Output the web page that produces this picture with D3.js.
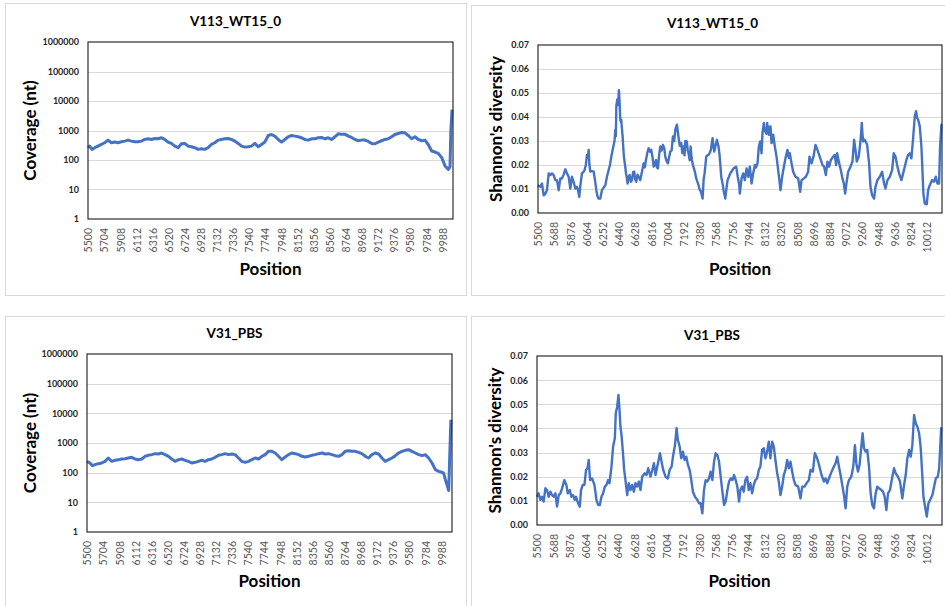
<!DOCTYPE html>
<html><head><meta charset="utf-8">
<script src="https://cdn.jsdelivr.net/npm/d3@7"></script>
<style>body{margin:0;background:#fff} svg{display:block} text{font-family:Lato,"Open Sans",sans-serif}</style>
</head><body>
<svg id="c" width="945" height="606"></svg>
<script>
const titleTop = "V113_WT15_0";
const titleBottom = "V31_PBS";
const coverageLabel = "Coverage (nt)";
const diversityLabel = "Shannon's diversity";
const xLabel = "Position";

const coverageYTicks = [1, 10, 100, 1000, 10000, 100000, 1000000];
const diversityYTicks = [0, 0.01, 0.02, 0.03, 0.04, 0.05, 0.06, 0.07];
const coverageXTicks = [5500,5704,5908,6112,6316,6520,6724,6928,7132,7336,7540,7744,7948,8152,8356,8560,8764,8968,9172,9376,9580,9784,9988];
const diversityXTicks = [5500,5688,5876,6064,6252,6440,6628,6816,7004,7192,7380,7568,7756,7944,8132,8320,8508,8696,8884,9072,9260,9448,9636,9824,10012];

// [position, coverage]
const coverageTop = [[5500,261],[5521,296],[5551,229],[5585,261],[5627,296],[5669,337],[5711,384],[5754,472],[5796,384],[5838,405],[5880,384],[5923,415],[5965,437],[6007,472],[6049,437],[6092,415],[6134,415],[6176,437],[6218,497],[6261,524],[6303,497],[6345,537],[6387,524],[6430,566],[6472,497],[6514,405],[6556,365],[6599,296],[6641,261],[6683,356],[6725,365],[6768,296],[6810,281],[6852,261],[6894,229],[6937,241],[6979,229],[7021,261],[7063,337],[7106,384],[7148,472],[7190,497],[7232,524],[7275,537],[7317,497],[7359,437],[7401,365],[7444,296],[7486,274],[7528,281],[7570,296],[7613,365],[7655,281],[7697,337],[7739,405],[7782,678],[7824,733],[7866,644],[7908,497],[7951,405],[7993,497],[8035,612],[8077,678],[8120,644],[8162,612],[8204,566],[8246,497],[8289,472],[8331,524],[8373,524],[8415,566],[8458,581],[8500,524],[8542,566],[8584,497],[8627,612],[8669,773],[8711,752],[8753,752],[8796,644],[8838,581],[8880,497],[8922,449],[8965,472],[9007,472],[9049,426],[9091,365],[9134,356],[9176,405],[9218,449],[9260,497],[9303,524],[9345,612],[9387,733],[9429,793],[9472,857],[9514,834],[9556,678],[9598,524],[9641,612],[9683,497],[9725,449],[9767,472],[9810,329],[9852,201],[9894,186],[9936,168],[9979,120],[10021,63],[10042,55],[10063,48],[10084,60],[10095,1000],[10110,5100]];
const coverageBottom = [[5500,241],[5538,212],[5568,172],[5601,186],[5644,201],[5686,212],[5728,241],[5770,312],[5813,241],[5855,261],[5897,274],[5939,289],[5982,296],[6024,312],[6066,329],[6108,289],[6151,274],[6193,289],[6235,356],[6277,384],[6320,405],[6362,437],[6404,426],[6446,460],[6489,405],[6531,356],[6573,289],[6615,241],[6658,274],[6700,289],[6742,261],[6784,241],[6827,212],[6869,223],[6911,241],[6953,261],[6996,241],[7038,274],[7080,289],[7122,329],[7165,384],[7207,405],[7249,437],[7291,405],[7334,426],[7376,405],[7418,312],[7460,241],[7503,223],[7545,241],[7587,274],[7629,312],[7672,289],[7714,356],[7756,405],[7798,524],[7841,524],[7883,460],[7925,356],[7967,274],[8010,337],[8052,405],[8094,460],[8136,437],[8179,405],[8221,356],[8263,337],[8305,356],[8348,384],[8390,405],[8432,437],[8474,460],[8517,426],[8559,437],[8601,405],[8643,374],[8686,356],[8728,405],[8770,524],[8812,552],[8855,524],[8897,524],[8939,484],[8981,437],[9024,356],[9066,312],[9108,405],[9150,460],[9193,426],[9235,312],[9277,241],[9319,274],[9362,312],[9404,374],[9446,460],[9488,524],[9531,566],[9573,596],[9615,524],[9657,460],[9700,405],[9742,374],[9784,405],[9826,312],[9869,212],[9911,126],[9953,111],[9995,103],[10016,97],[10038,58],[10059,39],[10080,25],[10095,500],[10108,6100]];

// [position, Shannon's diversity]
const diversityTop = [[5500,0.0116],[5527,0.0109],[5546,0.0123],[5566,0.0074],[5585,0.0080],[5604,0.0095],[5624,0.0165],[5643,0.0158],[5662,0.0165],[5682,0.0158],[5701,0.0137],[5720,0.0137],[5740,0.0095],[5759,0.0144],[5778,0.0144],[5797,0.0160],[5817,0.0182],[5836,0.0165],[5856,0.0151],[5875,0.0102],[5894,0.0151],[5913,0.0130],[5933,0.0102],[5952,0.0109],[5965,0.0095],[5979,0.0067],[5990,0.0110],[6010,0.0165],[6025,0.0170],[6041,0.0179],[6055,0.0200],[6068,0.0242],[6078,0.0230],[6088,0.0263],[6097,0.0200],[6107,0.0172],[6125,0.0175],[6146,0.0172],[6160,0.0140],[6177,0.0095],[6190,0.0070],[6204,0.0060],[6223,0.0060],[6242,0.0095],[6260,0.0105],[6281,0.0116],[6300,0.0151],[6320,0.0179],[6335,0.0200],[6351,0.0235],[6365,0.0260],[6378,0.0284],[6388,0.0300],[6397,0.0347],[6403,0.0320],[6409,0.0445],[6420,0.0473],[6430,0.0450],[6439,0.0512],[6447,0.0460],[6455,0.0389],[6462,0.0380],[6466,0.0389],[6474,0.0350],[6482,0.0319],[6490,0.0270],[6497,0.0235],[6510,0.0200],[6521,0.0165],[6530,0.0150],[6540,0.0123],[6552,0.0150],[6563,0.0158],[6577,0.0130],[6590,0.0137],[6603,0.0170],[6617,0.0172],[6628,0.0140],[6640,0.0130],[6655,0.0160],[6668,0.0151],[6687,0.0137],[6705,0.0170],[6726,0.0207],[6740,0.0190],[6753,0.0221],[6768,0.0250],[6784,0.0270],[6800,0.0255],[6814,0.0263],[6830,0.0230],[6842,0.0193],[6855,0.0200],[6869,0.0221],[6880,0.0190],[6892,0.0186],[6905,0.0240],[6919,0.0277],[6935,0.0260],[6950,0.0284],[6965,0.0270],[6977,0.0235],[6993,0.0215],[7008,0.0207],[7020,0.0230],[7035,0.0256],[7050,0.0260],[7066,0.0319],[7080,0.0300],[7095,0.0350],[7112,0.0368],[7122,0.0340],[7132,0.0312],[7145,0.0280],[7162,0.0291],[7175,0.0250],[7189,0.0277],[7200,0.0240],[7210,0.0300],[7228,0.0298],[7237,0.0260],[7247,0.0249],[7260,0.0220],[7271,0.0277],[7280,0.0240],[7286,0.0221],[7298,0.0200],[7309,0.0186],[7322,0.0170],[7336,0.0144],[7350,0.0130],[7363,0.0116],[7373,0.0100],[7383,0.0095],[7397,0.0080],[7410,0.0060],[7422,0.0140],[7433,0.0165],[7443,0.0200],[7452,0.0235],[7465,0.0240],[7479,0.0242],[7492,0.0250],[7506,0.0263],[7516,0.0290],[7526,0.0312],[7535,0.0280],[7545,0.0256],[7560,0.0280],[7576,0.0305],[7585,0.0290],[7595,0.0277],[7607,0.0240],[7618,0.0193],[7626,0.0150],[7634,0.0137],[7643,0.0120],[7653,0.0095],[7662,0.0080],[7673,0.0060],[7686,0.0100],[7700,0.0137],[7715,0.0150],[7731,0.0165],[7750,0.0175],[7769,0.0186],[7785,0.0190],[7800,0.0193],[7818,0.0150],[7835,0.0116],[7842,0.0081],[7862,0.0144],[7881,0.0165],[7900,0.0137],[7920,0.0186],[7939,0.0151],[7958,0.0193],[7978,0.0123],[7997,0.0165],[8016,0.0200],[8030,0.0190],[8047,0.0207],[8063,0.0277],[8078,0.0298],[8094,0.0249],[8105,0.0333],[8121,0.0375],[8130,0.0340],[8140,0.0354],[8150,0.0330],[8159,0.0375],[8170,0.0340],[8179,0.0326],[8189,0.0360],[8198,0.0361],[8210,0.0291],[8220,0.0310],[8229,0.0326],[8248,0.0277],[8268,0.0235],[8287,0.0179],[8300,0.0140],[8314,0.0095],[8333,0.0151],[8353,0.0193],[8376,0.0235],[8395,0.0263],[8410,0.0230],[8422,0.0249],[8442,0.0207],[8461,0.0172],[8488,0.0151],[8519,0.0144],[8530,0.0120],[8542,0.0088],[8558,0.0137],[8585,0.0144],[8608,0.0151],[8635,0.0172],[8650,0.0235],[8674,0.0207],[8697,0.0235],[8720,0.0284],[8743,0.0263],[8762,0.0242],[8782,0.0221],[8801,0.0200],[8820,0.0193],[8840,0.0158],[8859,0.0214],[8878,0.0193],[8898,0.0221],[8925,0.0235],[8944,0.0242],[8960,0.0200],[8971,0.0249],[8991,0.0214],[9014,0.0179],[9033,0.0144],[9049,0.0123],[9064,0.0081],[9079,0.0123],[9099,0.0172],[9126,0.0193],[9149,0.0214],[9168,0.0305],[9184,0.0263],[9199,0.0214],[9222,0.0235],[9242,0.0298],[9257,0.0375],[9265,0.0330],[9273,0.0298],[9292,0.0305],[9319,0.0284],[9342,0.0207],[9358,0.0109],[9377,0.0074],[9400,0.0060],[9416,0.0109],[9439,0.0137],[9466,0.0151],[9493,0.0172],[9516,0.0123],[9532,0.0102],[9555,0.0137],[9582,0.0151],[9609,0.0179],[9628,0.0249],[9648,0.0235],[9667,0.0200],[9690,0.0165],[9717,0.0137],[9737,0.0165],[9756,0.0193],[9775,0.0221],[9795,0.0242],[9814,0.0249],[9833,0.0228],[9853,0.0312],[9872,0.0403],[9887,0.0424],[9900,0.0395],[9911,0.0389],[9930,0.0361],[9949,0.0277],[9961,0.0179],[9972,0.0081],[9988,0.0039],[10011,0.0036],[10027,0.0095],[10046,0.0116],[10073,0.0137],[10096,0.0130],[10116,0.0151],[10135,0.0123],[10154,0.0123],[10166,0.0277],[10181,0.0368],[10188,0.0370]];
const diversityBottom = [[5500,0.0117],[5519,0.0131],[5539,0.0104],[5558,0.0117],[5577,0.0097],[5597,0.0152],[5616,0.0145],[5635,0.0117],[5655,0.0138],[5674,0.0124],[5693,0.0117],[5713,0.0131],[5732,0.0076],[5751,0.0124],[5771,0.0131],[5790,0.0152],[5817,0.0186],[5840,0.0166],[5856,0.0131],[5879,0.0145],[5898,0.0117],[5918,0.0124],[5937,0.0104],[5952,0.0117],[5976,0.0090],[5995,0.0076],[6010,0.0145],[6030,0.0166],[6049,0.0166],[6068,0.0228],[6084,0.0235],[6099,0.0269],[6115,0.0186],[6138,0.0193],[6165,0.0166],[6188,0.0104],[6207,0.0083],[6227,0.0083],[6246,0.0117],[6265,0.0131],[6285,0.0159],[6304,0.0166],[6323,0.0186],[6339,0.0173],[6362,0.0242],[6381,0.0325],[6401,0.0359],[6412,0.0463],[6428,0.0490],[6443,0.0539],[6455,0.0477],[6466,0.0407],[6478,0.0373],[6494,0.0304],[6509,0.0228],[6524,0.0186],[6544,0.0124],[6563,0.0173],[6582,0.0145],[6602,0.0166],[6621,0.0138],[6640,0.0173],[6660,0.0159],[6679,0.0180],[6698,0.0145],[6718,0.0200],[6745,0.0214],[6768,0.0207],[6787,0.0235],[6814,0.0200],[6834,0.0228],[6853,0.0256],[6872,0.0207],[6900,0.0256],[6923,0.0297],[6942,0.0262],[6961,0.0228],[6988,0.0200],[7015,0.0193],[7035,0.0228],[7058,0.0242],[7077,0.0290],[7097,0.0331],[7116,0.0401],[7131,0.0352],[7151,0.0325],[7170,0.0276],[7189,0.0304],[7209,0.0269],[7228,0.0283],[7247,0.0249],[7267,0.0228],[7286,0.0186],[7305,0.0138],[7329,0.0117],[7356,0.0104],[7375,0.0090],[7394,0.0090],[7414,0.0048],[7433,0.0145],[7452,0.0186],[7472,0.0180],[7491,0.0193],[7510,0.0221],[7530,0.0186],[7549,0.0262],[7568,0.0297],[7588,0.0290],[7607,0.0262],[7626,0.0200],[7646,0.0138],[7665,0.0083],[7684,0.0097],[7704,0.0145],[7723,0.0180],[7742,0.0193],[7762,0.0186],[7781,0.0207],[7800,0.0186],[7819,0.0159],[7839,0.0097],[7854,0.0145],[7874,0.0159],[7893,0.0138],[7912,0.0186],[7932,0.0200],[7951,0.0145],[7970,0.0173],[7990,0.0131],[8009,0.0166],[8028,0.0186],[8048,0.0193],[8067,0.0228],[8086,0.0242],[8106,0.0311],[8125,0.0318],[8144,0.0276],[8164,0.0304],[8183,0.0345],[8202,0.0276],[8222,0.0345],[8241,0.0325],[8260,0.0269],[8280,0.0214],[8299,0.0180],[8318,0.0124],[8338,0.0159],[8357,0.0207],[8376,0.0228],[8396,0.0269],[8415,0.0235],[8434,0.0262],[8454,0.0221],[8473,0.0186],[8492,0.0166],[8523,0.0159],[8550,0.0110],[8570,0.0159],[8597,0.0159],[8620,0.0173],[8647,0.0186],[8666,0.0228],[8693,0.0221],[8716,0.0297],[8736,0.0283],[8755,0.0262],[8774,0.0235],[8794,0.0207],[8821,0.0180],[8840,0.0193],[8859,0.0173],[8887,0.0200],[8910,0.0221],[8937,0.0242],[8956,0.0256],[8975,0.0283],[8995,0.0242],[9014,0.0207],[9033,0.0166],[9053,0.0124],[9072,0.0069],[9091,0.0159],[9111,0.0186],[9138,0.0200],[9161,0.0242],[9180,0.0331],[9196,0.0256],[9215,0.0221],[9234,0.0249],[9254,0.0325],[9269,0.0380],[9285,0.0318],[9304,0.0304],[9323,0.0311],[9343,0.0242],[9362,0.0131],[9381,0.0083],[9401,0.0069],[9420,0.0131],[9439,0.0159],[9459,0.0152],[9486,0.0145],[9505,0.0138],[9524,0.0117],[9544,0.0062],[9563,0.0131],[9586,0.0145],[9613,0.0200],[9633,0.0235],[9652,0.0214],[9679,0.0200],[9702,0.0180],[9729,0.0110],[9749,0.0166],[9768,0.0207],[9787,0.0276],[9807,0.0311],[9826,0.0283],[9845,0.0331],[9865,0.0456],[9884,0.0421],[9903,0.0407],[9923,0.0380],[9942,0.0318],[9961,0.0200],[9973,0.0117],[9992,0.0076],[10012,0.0035],[10031,0.0090],[10058,0.0110],[10077,0.0124],[10097,0.0159],[10116,0.0193],[10139,0.0200],[10155,0.0235],[10166,0.0311],[10178,0.0401],[10188,0.0401]];

const svg = d3.select("#c");
const LINE = "#4472C4";

function panel(cfg) {
  const g = svg.append("g");
  g.append("rect")
    .attr("x", cfg.box[0] + 0.5).attr("y", cfg.box[1] + 0.5)
    .attr("width", cfg.box[2]).attr("height", cfg.box[3])
    .attr("fill", "#fff").attr("stroke", "#d9d9d9").attr("stroke-width", 1);

  const p = cfg.plot;
  const x = d3.scaleLinear().domain(cfg.xDomain).range([p.l, p.r]);
  const y = cfg.log
    ? d3.scaleLog().domain([1, 1000000]).range([p.b, p.t])
    : d3.scaleLinear().domain([0, 0.07]).range([p.b, p.t]);

  g.append("g").selectAll("line").data(cfg.yTicks.slice(1, -1)).join("line")
    .attr("x1", p.l).attr("x2", p.r)
    .attr("y1", d => Math.round(y(d)) + 0.5).attr("y2", d => Math.round(y(d)) + 0.5)
    .attr("stroke", "#d9d9d9").attr("stroke-width", 1.2);

  const line = d3.line().x(d => x(d[0])).y(d => y(d[1]));
  g.append("path").datum(cfg.data)
    .attr("d", line).attr("fill", "none")
    .attr("stroke", LINE).attr("stroke-width", cfg.lw)
    .attr("stroke-linejoin", "round");

  g.append("rect").attr("x", p.l).attr("y", p.t)
    .attr("width", p.r - p.l).attr("height", p.b - p.t)
    .attr("fill", "none").attr("stroke", "#1a1a1a").attr("stroke-width", 1.1);

  const ya = g.append("g").attr("transform", `translate(${p.l},0)`)
    .call(d3.axisLeft(y).tickValues(cfg.yTicks).tickSize(0).tickPadding(9).tickFormat(cfg.yFmt));
  ya.select(".domain").remove();
  ya.selectAll("text").attr("font-family", "Lato").attr("font-size", 9)
    .attr("font-weight", "bold").attr("fill", "#262626");

  const xa = g.append("g").attr("transform", `translate(0,${p.b})`)
    .call(d3.axisBottom(x).tickValues(cfg.xTicks).tickSize(0).tickFormat(d3.format("d")));
  xa.select(".domain").remove();
  xa.selectAll("text")
    .attr("transform", "rotate(-90)").attr("text-anchor", "end")
    .attr("x", -9).attr("y", 0).attr("dy", "0.36em")
    .attr("font-family", "Lato").attr("font-size", 10.5).attr("fill", "#595959");

  g.append("text").attr("x", cfg.title[0]).attr("y", cfg.title[1])
    .attr("text-anchor", "middle").attr("font-size", 13.5).attr("font-weight", "bold")
    .attr("fill", "#000").text(cfg.titleText);
  g.append("text").attr("x", (p.l + p.r) / 2).attr("y", cfg.xLabelY)
    .attr("text-anchor", "middle").attr("font-size", 17).attr("font-weight", "bold")
    .attr("fill", "#000").text(xLabel);
  g.append("text")
    .attr("transform", `translate(${cfg.yLabelX},${(p.t + p.b) / 2}) rotate(-90)`)
    .attr("text-anchor", "middle").attr("font-size", 17).attr("font-weight", "bold")
    .attr("fill", "#000").text(cfg.yLabel);
}

const fmtCov = d3.format("d");
const fmtDiv = d3.format(".2f");

panel({ box: [5, 3, 461, 292], plot: { l: 88, t: 42, r: 453, b: 219 }, xDomain: [5500, 10122],
  log: true, yTicks: coverageYTicks, yFmt: fmtCov, xTicks: coverageXTicks, data: coverageTop, lw: 3,
  title: [235.5, 26], titleText: titleTop, xLabelY: 275, yLabelX: 36, yLabel: coverageLabel });
panel({ box: [471, 5, 480, 290], plot: { l: 538, t: 45, r: 942, b: 213 }, xDomain: [5500, 10188],
  log: false, yTicks: diversityYTicks, yFmt: fmtDiv, xTicks: diversityXTicks, data: diversityTop, lw: 2.4,
  title: [712.5, 28], titleText: titleTop, xLabelY: 275, yLabelX: 502, yLabel: diversityLabel });
panel({ box: [5, 316, 461, 300], plot: { l: 87, t: 354, r: 452, b: 532 }, xDomain: [5500, 10122],
  log: true, yTicks: coverageYTicks, yFmt: fmtCov, xTicks: coverageXTicks, data: coverageBottom, lw: 3,
  title: [234.5, 338], titleText: titleBottom, xLabelY: 587, yLabelX: 36, yLabel: coverageLabel });
panel({ box: [471, 316, 480, 300], plot: { l: 537, t: 356, r: 942, b: 525 }, xDomain: [5500, 10188],
  log: false, yTicks: diversityYTicks, yFmt: fmtDiv, xTicks: diversityXTicks, data: diversityBottom, lw: 2.4,
  title: [712, 340], titleText: titleBottom, xLabelY: 587, yLabelX: 501, yLabel: diversityLabel });
</script>
</body></html>
